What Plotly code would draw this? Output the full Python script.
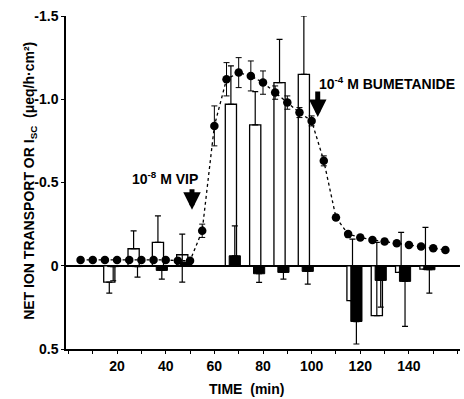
import plotly.graph_objects as go

# Isc time course (filled circles, dotted line)
isc_time = [5, 10, 15, 20, 25, 30, 35, 40, 45, 50, 55, 60, 65, 70, 75, 80, 85, 90,
            95, 100, 105, 110, 115, 120, 125, 130, 135, 140, 145, 150, 155]
isc_value = [-0.035, -0.035, -0.035, -0.035, -0.035, -0.035, -0.035, -0.035, -0.03, -0.03,
             -0.21, -0.84, -1.12, -1.16, -1.14, -1.10, -1.04, -0.98, -0.92, -0.87,
             -0.63, -0.29, -0.19, -0.17, -0.155, -0.145, -0.135, -0.125, -0.115, -0.105, -0.095]
isc_err = [0.01, 0.01, 0.01, 0.01, 0.01, 0.01, 0.01, 0.01, 0.01, 0.01,
           0.04, 0.12, 0.10, 0.09, 0.09, 0.07, 0.04, 0.04, 0.03, 0.03,
           0.03, 0.015, 0.01, 0.01, 0.01, 0.01, 0.01, 0.01, 0.01, 0.01, 0.01]

# Flux periods (bars)
flux_time = [17.5, 27.5, 37.5, 47.5, 67.5, 77.5, 87.5, 97.5, 117.5, 127.5, 137.5, 147.5]
open_value = [0.098, -0.102, -0.14, -0.066, -0.97, -0.846, -1.10, -1.15, 0.21, 0.30, 0.04, 0.02]
open_err_plus = [0.066, 0, 0, 0.164, 0, 0, 0, 0, 0, 0, 0, 0]
open_err_minus = [0, 0.108, 0.16, 0.124, 0.23, 0.20, 0.26, 0.35, 0.37, 0.44, 0.24, 0.25]
filled_value = [0.005, 0.005, 0.028, -0.02, -0.06, 0.048, 0.04, 0.034, 0.335, 0.088, 0.094, 0.024]
filled_err_plus = [0.085, 0.063, 0.052, 0, 0, 0.052, 0.04, 0.076, 0.135, 0.16, 0.27, 0.14]
filled_err_minus = [0, 0, 0, 0, 0.18, 0, 0, 0, 0, 0, 0, 0]

x_ticks = [20, 40, 60, 80, 100, 120, 140]
y_ticks = [-1.5, -1.0, -0.5, 0, 0.5]
y_ticktext = ["-1.5", "-1.0", "-0.5", "0", "0.5"]

FONT = "Liberation Sans, Arial, sans-serif"
BAR_W = 4.6
OPEN_OFF = -0.7
FILL_OFF = 0.9

fig = go.Figure()
fig.add_trace(go.Bar(
    x=[t + OPEN_OFF for t in flux_time], y=open_value, width=BAR_W,
    marker=dict(color="white", line=dict(color="black", width=1.3)),
    error_y=dict(type="data", symmetric=False, array=open_err_plus,
                 arrayminus=open_err_minus, color="black", thickness=1.2, width=3),
    showlegend=False))
fig.add_trace(go.Bar(
    x=[t + FILL_OFF for t in flux_time], y=filled_value, width=BAR_W,
    marker=dict(color="black", line=dict(color="black", width=1)),
    error_y=dict(type="data", symmetric=False, array=filled_err_plus,
                 arrayminus=filled_err_minus, color="black", thickness=1.2, width=3),
    showlegend=False))
fig.add_trace(go.Scatter(
    x=isc_time, y=isc_value, mode="lines+markers",
    line=dict(color="black", width=1.3, dash="dot"),
    marker=dict(color="black", size=8.5),
    error_y=dict(type="data", array=isc_err, color="black", thickness=1, width=3),
    showlegend=False))

fig.update_layout(
    width=464, height=399,
    margin=dict(l=66, r=4, t=16, b=50),
    paper_bgcolor="white", plot_bgcolor="white",
    barmode="overlay",
    font=dict(family=FONT, color="black", size=14),
    xaxis=dict(range=[-1, 161], tickvals=x_ticks,
               ticktext=[f"<b>{v}</b>" for v in x_ticks],
               showline=True, linecolor="black", linewidth=1.5,
               ticks="outside", ticklen=3, tickcolor="black",
               showgrid=False, zeroline=False,
               minor=dict(dtick=10, tick0=0, ticks="outside", ticklen=3, tickcolor="black"),
               tickfont=dict(size=14)),
    yaxis=dict(range=[0.5, -1.5], tickvals=y_ticks,
               ticktext=[f"<b>{s}</b>" for s in y_ticktext],
               showline=True, linecolor="black", linewidth=1.5,
               ticks="outside", ticklen=3, tickcolor="black",
               showgrid=False, zeroline=True, zerolinecolor="black", zerolinewidth=1.5,
               tickfont=dict(size=14)),
)

anns = [
    dict(text="<b>NET ION TRANSPORT OR I<sub>SC</sub>  (μeq/h·cm²)</b>", xref="paper", yref="paper",
         x=-0.0914, y=0.505, textangle=-90, showarrow=False, xanchor="center", yanchor="middle",
         font=dict(size=14)),
    dict(text="<b>TIME  (min)</b>", xref="paper", yref="paper", x=0.459, y=-0.12,
         showarrow=False, xanchor="center", yanchor="middle", font=dict(size=14)),
    dict(text="<b>10<sup>-8</sup> M VIP</b>", x=25.4, y=-0.528, xanchor="left", yanchor="middle",
         showarrow=False, font=dict(size=14)),
    dict(text="<b>10<sup>-4</sup> M BUMETANIDE</b>", x=102, y=-1.098, xanchor="left",
         yanchor="middle", showarrow=False, font=dict(size=14)),
    dict(text="", x=50.8, y=-0.336, ax=0, ay=-22, showarrow=True, arrowhead=2,
         arrowsize=0.7, arrowwidth=5, arrowcolor="black"),
    dict(text="", x=102.5, y=-0.894, ax=0, ay=-27, showarrow=True, arrowhead=2,
         arrowsize=0.7, arrowwidth=5, arrowcolor="black"),
]
fig.update_layout(annotations=anns)
fig.write_html("out.html", config={"displayModeBar": False},
               post_script="document.body.style.margin='0';document.body.style.overflow='hidden';")
